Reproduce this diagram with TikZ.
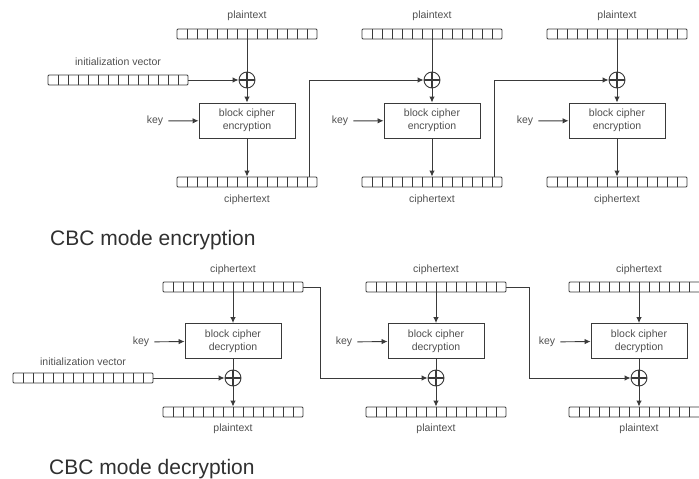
\documentclass[tikz,border=0pt]{standalone}
\usepackage{fontspec}
\setmainfont{Liberation Sans}
\usetikzlibrary{arrows.meta}
\definecolor{linec}{HTML}{3A3A3A}
\definecolor{txtc}{HTML}{505050}
\definecolor{titc}{HTML}{303030}
\tikzset{
  x=1pt, y=-1pt,
  lbl/.style={text=txtc, font=\fontsize{10.5}{13}\selectfont, inner sep=0pt},
  ttl/.style={text=titc, font=\fontsize{21}{24}\selectfont, inner sep=0pt, anchor=base west},
  cellbar/.style={draw=linec, line width=0.9pt, minimum width=140pt, minimum height=10pt,
    inner sep=0pt, rounded corners=1pt,
    path picture={\foreach \i in {1,...,13}{
      \draw[linec, line width=0.9pt] ([xshift=\i*10pt]path picture bounding box.south west)
        -- ([xshift=\i*10pt]path picture bounding box.north west);}}},
  cipherbox/.style={draw=linec, line width=0.9pt, minimum width=96pt, minimum height=35pt,
    align=center, text=txtc, font=\fontsize{10.5}{13}\selectfont, inner sep=0pt},
  xorc/.style={circle, draw=linec, line width=0.9pt, minimum size=16pt, inner sep=0pt,
    path picture={
      \draw[linec, line width=2pt] (path picture bounding box.north) -- (path picture bounding box.south);
      \draw[linec, line width=2pt] (path picture bounding box.west) -- (path picture bounding box.east);}},
  conn/.style={draw=linec, line width=0.9pt},
  arr/.style={conn, -{Latex[length=6pt,width=5.5pt]}},
}
\begin{document}
\begin{tikzpicture}
\useasboundingbox (0,0) rectangle (699,479);
\clip (0,0) rectangle (699,479);

% ---------------- Encryption ----------------
\node[lbl] (eivl) at (118,62) {initialization vector};
\node[cellbar] (eiv) at (118,80) {};

\foreach \n/\cx in {1/247,2/432,3/617}{
  \node[lbl] (eptl\n) at (\cx,16) {plaintext};
  \node[cellbar] (ep\n) at (\cx,34) {};
  \node[xorc] (ex\n) at (\cx,80) {};
  \node[cipherbox] (eb\n) at (\cx,120.5) {block cipher\\encryption};
  \node[lbl] (ek\n) at (\cx-92,121) {key};
  \node[cellbar] (ec\n) at (\cx,182) {};
  \node[lbl] (ecl\n) at (\cx,199.5) {ciphertext};
  \draw[conn] (ep\n) -- (ex\n);
  \draw[arr] (ex\n) -- (eb\n);
  \draw[arr] (eb\n) -- (ec\n);
  \draw[arr, shorten <=5pt] (ek\n) -- (eb\n);
}
\draw[arr] (eiv) -- (ex1);
\draw[arr] ([xshift=62pt]ec1.north) |- (ex2);
\draw[arr] ([xshift=62pt]ec2.north) |- (ex3);

\node[ttl] (etitle) at (50,245) {CBC mode encryption};

% ---------------- Decryption ----------------
\node[lbl] (divl) at (83,362) {initialization vector};
\node[cellbar] (div) at (83,378) {};

\foreach \n/\cx in {1/233,2/436,3/639}{
  \node[lbl] (dcl\n) at (\cx,270) {ciphertext};
  \node[cellbar] (dc\n) at (\cx,287) {};
  \node[cipherbox] (db\n) at (\cx,341) {block cipher\\decryption};
  \node[lbl] (dk\n) at (\cx-92,342) {key};
  \node[xorc] (dx\n) at (\cx,378) {};
  \node[cellbar] (dp\n) at (\cx,412) {};
  \node[lbl] (dpl\n) at (\cx,429) {plaintext};
  \draw[arr] (dc\n) -- (db\n);
  \draw[conn] (db\n) -- (dx\n);
  \draw[arr] (dx\n) -- (dp\n);
  \draw[arr, shorten <=5pt] (dk\n) -- (db\n);
}
\draw[arr] (div) -- (dx1);
\draw[arr] (dc1.east) -- ++(17pt,0) |- (dx2);
\draw[arr] (dc2.east) -- ++(23pt,0) |- (dx3);

\node[ttl] (dtitle) at (49,474) {CBC mode decryption};
\end{tikzpicture}
\end{document}
